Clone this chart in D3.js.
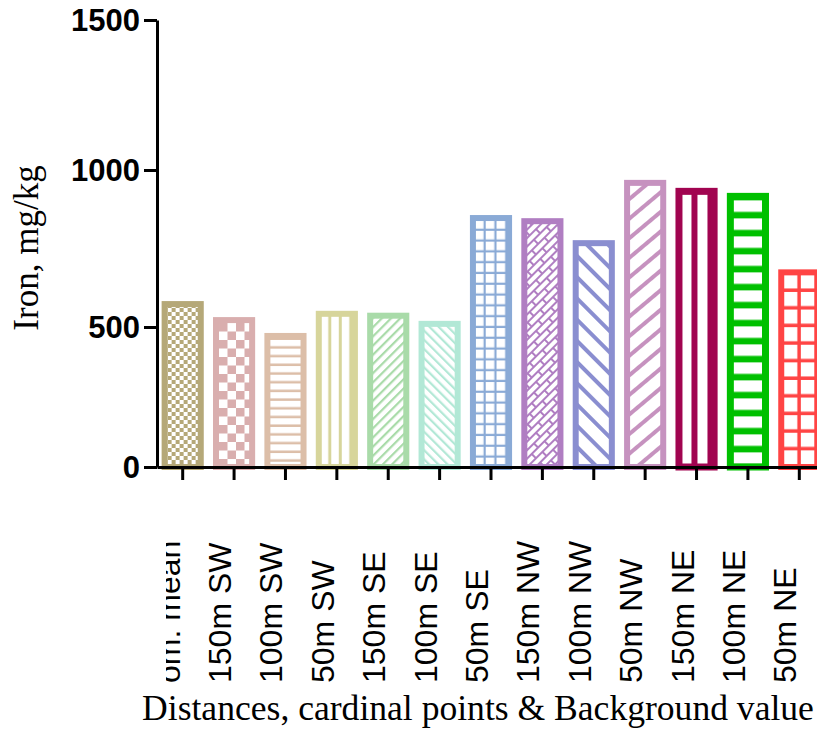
<!DOCTYPE html>
<html>
<head>
<meta charset="utf-8">
<script src="https://cdn.jsdelivr.net/npm/d3@7"></script>
<style>
  html, body { margin: 0; padding: 0; background: #fff; }
  svg { display: block; }
</style>
</head>
<body>
<svg id="chart" width="817" height="729"></svg>
<script>
// ---- data ----
const categories = ["om. mean", "150m SW", "100m SW", "50m SW", "150m SE", "100m SE", "50m SE",
                    "150m NW", "100m NW", "50m NW", "150m NE", "100m NE", "50m NE"];
const ironValues = [573, 522, 468, 542, 536, 510, 847, 837, 767, 959, 932, 916, 674];
const yTicks = [0, 500, 1000, 1500];
const yAxisTitle = "Iron, mg/kg";
const xAxisTitle = "Distances, cardinal points & Background value";

// ---- styles ----
const barColors = ["#b5a878", "#d9aeae", "#dcbea8", "#d7d59b", "#a9dba9", "#b2e8d6", "#8aaad6",
                   "#b07ec2", "#8a8ed0", "#c692bf", "#a10450", "#00c000", "#ff4444"];
const barPatterns = ["checkSmall", "checkLarge", "hlines", "vlines", "diagFwd", "diagBack", "grid",
                     "brick", "diagBackWide", "diagFwdWide", "vlinesWide", "hlinesThick", "gridWide"];
const barStroke = [6, 6, 6, 6, 6, 6, 6, 6, 6, 6, 7, 7, 6];

const svg = d3.select("#chart");
const defs = svg.append("defs");

const x = d3.scaleBand().domain(categories).range([157, 825]).paddingInner(0.18).paddingOuter(0.09);
const y = d3.scaleLinear().domain(yTicks).range([467, 327, 170, 20]);

function makePattern(i) {
  const c = barColors[i], type = barPatterns[i];
  const x0 = x(categories[i]) + barStroke[i];
  const p = defs.append("pattern").attr("id", "pat" + i).attr("patternUnits", "userSpaceOnUse");
  const bg = (w, h) => p.append("rect").attr("width", w).attr("height", h).attr("fill", "#fff");
  if (type === "checkSmall" || type === "checkLarge") {
    const s = type === "checkSmall" ? 4 : 8.5;
    p.attr("width", 2 * s).attr("height", 2 * s).attr("x", x0).attr("y", 0);
    bg(2 * s, 2 * s);
    p.append("rect").attr("x", 0).attr("y", 0).attr("width", s).attr("height", s).attr("fill", c);
    p.append("rect").attr("x", s).attr("y", s).attr("width", s).attr("height", s).attr("fill", c);
  } else if (type === "hlines" || type === "hlinesThick") {
    const s = type === "hlines" ? 8.7 : 18, t = type === "hlines" ? 2.5 : 6.5;
    p.attr("width", 10).attr("height", s).attr("x", 0).attr("y", y(ironValues[i]) + 4);
    bg(10, s);
    p.append("rect").attr("x", 0).attr("y", s - t).attr("width", 10).attr("height", t).attr("fill", c);
  } else if (type === "vlines" || type === "vlinesWide") {
    const s = type === "vlines" ? 10.5 : 16, t = type === "vlines" ? 3 : 6;
    p.attr("width", s).attr("height", 10).attr("x", x0 - 1).attr("y", 0);
    bg(s, 10);
    p.append("rect").attr("x", s - t).attr("y", 0).attr("width", t).attr("height", 10).attr("fill", c);
  } else if (type === "grid" || type === "gridWide") {
    const s = type === "grid" ? 10.8 : 17.6, t = type === "grid" ? 2.2 : 3.5;
    p.attr("width", s).attr("height", s).attr("x", x0 - 1).attr("y", y(ironValues[i]) + 2);
    bg(s, s);
    p.append("rect").attr("x", s - t).attr("y", 0).attr("width", t).attr("height", s).attr("fill", c);
    p.append("rect").attr("x", 0).attr("y", s - t).attr("width", s).attr("height", t).attr("fill", c);
  } else if (type.startsWith("diag")) {
    const wide = type.endsWith("Wide");
    const s = wide ? 15 : 6.5, t = wide ? 4 : 2.2;
    const ang = type.startsWith("diagFwd") ? (wide ? 50 : 45) : -45;
    p.attr("width", s).attr("height", 10).attr("patternTransform", `rotate(${ang})`);
    bg(s, 10);
    p.append("rect").attr("x", 0).attr("y", 0).attr("width", t).attr("height", 10).attr("fill", c);
  } else if (type === "brick") {
    const a = 9, h = 6, t = 2;
    p.attr("width", 2 * a).attr("height", 2 * h).attr("patternTransform", "rotate(-45)");
    bg(2 * a, 2 * h);
    p.append("rect").attr("x", 0).attr("y", 0).attr("width", 2 * a).attr("height", t).attr("fill", c);
    p.append("rect").attr("x", 0).attr("y", h).attr("width", 2 * a).attr("height", t).attr("fill", c);
    p.append("rect").attr("x", 0).attr("y", 0).attr("width", t).attr("height", h).attr("fill", c);
    p.append("rect").attr("x", a).attr("y", h).attr("width", t).attr("height", h).attr("fill", c);
  }
}
categories.forEach((d, i) => makePattern(i));

// ---- bars ----
svg.append("g").selectAll("rect.bar").data(categories).join("rect")
  .attr("class", "bar")
  .attr("x", (d, i) => x(d) + barStroke[i] / 2)
  .attr("width", (d, i) => x.bandwidth() - barStroke[i])
  .attr("y", (d, i) => y(ironValues[i]))
  .attr("height", (d, i) => y(0) - y(ironValues[i]))
  .attr("fill", (d, i) => `url(#pat${i})`)
  .attr("stroke", (d, i) => barColors[i])
  .attr("stroke-width", (d, i) => barStroke[i]);

// ---- y axis ----
const yAxis = svg.append("g").attr("transform", "translate(157,0)")
  .call(d3.axisLeft(y).tickValues(yTicks).tickFormat(d3.format("d")).tickSize(13).tickSizeOuter(0).tickPadding(4));
yAxis.select(".domain").attr("stroke", "#000").attr("stroke-width", 3);
yAxis.selectAll(".tick line").attr("stroke", "#000").attr("stroke-width", 3);
yAxis.selectAll(".tick text")
  .attr("font-family", "'Liberation Sans', Arial, sans-serif")
  .attr("font-weight", "bold").attr("font-size", 31).attr("fill", "#000").attr("dy", "0.35em");

// ---- x axis ----
const xAxis = svg.append("g").attr("transform", "translate(0,467)")
  .call(d3.axisBottom(x).tickSize(13).tickSizeOuter(0).tickFormat(""));
xAxis.select(".domain").attr("stroke", "#000").attr("stroke-width", 3);
xAxis.selectAll(".tick line").attr("stroke", "#000").attr("stroke-width", 3);

// ---- x labels ----
defs.append("clipPath").attr("id", "labelClip")
  .append("rect").attr("x", 166).attr("y", 480).attr("width", 700).attr("height", 215);
svg.append("g").attr("clip-path", "url(#labelClip)")
  .selectAll("text").data(categories).join("text")
  .attr("transform", d => `translate(${x(d) + x.bandwidth() / 2 - 3},683) rotate(-90)`)
  .attr("text-anchor", "start")
  .attr("font-family", "'Liberation Sans', Arial, sans-serif")
  .attr("font-size", 32).attr("fill", "#000")
  .text(d => d);

// ---- titles ----
svg.append("text")
  .attr("transform", "translate(38,248) rotate(-90)")
  .attr("text-anchor", "middle")
  .attr("font-family", "'Liberation Serif', 'Times New Roman', serif")
  .attr("font-size", 35).attr("fill", "#000")
  .text(yAxisTitle);

svg.append("text")
  .attr("x", 478).attr("y", 720)
  .attr("text-anchor", "middle")
  .attr("font-family", "'Liberation Serif', 'Times New Roman', serif")
  .attr("font-size", 35.6).attr("fill", "#000")
  .text(xAxisTitle);
</script>
</body>
</html>
